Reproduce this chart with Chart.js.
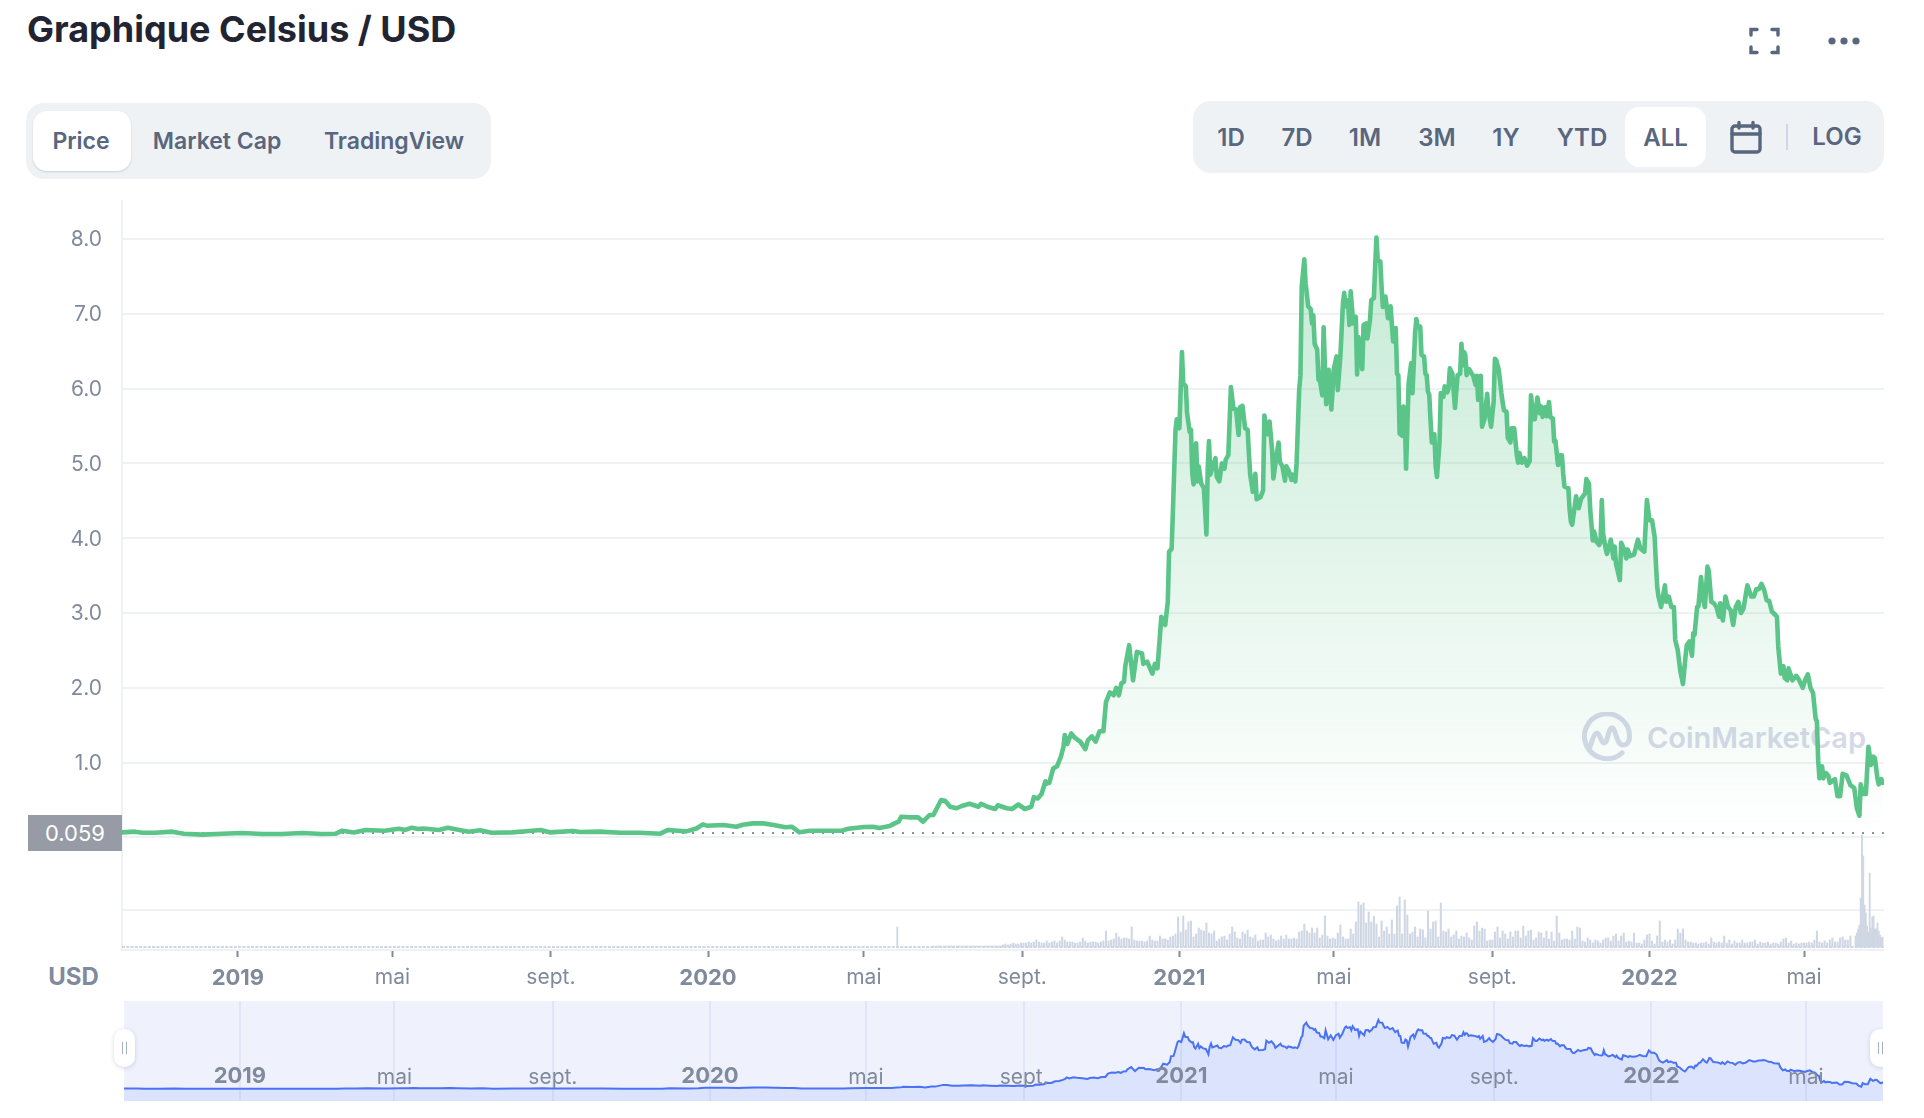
<!DOCTYPE html>
<html lang="fr">
<head>
<meta charset="utf-8">
<title>Graphique Celsius / USD</title>
<script src="https://cdn.jsdelivr.net/npm/chart.js@4/dist/chart.umd.min.js"></script>
<style>
html,body{margin:0;padding:0;background:#fff;overflow:hidden}
#page{position:relative;width:1924px;height:1118px;overflow:hidden;font-family:Inter,sans-serif;color:#58667e}
.abs{position:absolute}
#title{left:27px;top:8px;font-size:36px;font-weight:700;color:#222531;white-space:nowrap;line-height:42px}
.panel{background:#eff2f5;border-radius:18px}
.active{background:#fff;border-radius:14px}
.lbl{font-weight:600;white-space:nowrap;transform:translate(-50%,-50%);line-height:1}
.tab{font-size:23px}
.rng{font-size:24px}
#main{left:0;top:0;z-index:2}
#band{left:124px;top:1001px;width:1759px;height:100px;background:#eff2fd}
#nav{left:124px;top:1001px;z-index:2}
.handle{background:#fff;border-radius:10px;box-shadow:0 1px 4px rgba(88,102,126,.25);z-index:3;width:21px;height:38px;top:1029px}
.handle i{position:absolute;top:13px;width:1.5px;height:12px;background:#a6b0c3}
#wm{left:1647px;top:716px;font-size:29px;font-weight:600;color:#d6d9e8;line-height:44px;white-space:nowrap;z-index:1}
#price0{left:28px;top:815px;width:94px;height:36px;background:#979ba6;color:#fff;font-size:22px;line-height:36px;text-align:center;z-index:3}
#usd{left:73.5px;top:977px;font-size:24px;font-weight:700;color:#808a9d}
</style>
</head>
<body>
<div id="page">
  <div id="title" class="abs">Graphique Celsius / USD</div>

  <svg class="abs" style="left:1745px;top:24px" width="120" height="34" fill="none" stroke="#58667e" stroke-width="3.4" stroke-linecap="round">
    <path d="M6 11V5.5H12M27 5.5H33V11M6 23V28.5H12M27 28.5H33V23"/>
    <g fill="#58667e" stroke="none"><circle cx="87" cy="17" r="3.6"/><circle cx="99" cy="17" r="3.6"/><circle cx="111" cy="17" r="3.6"/></g>
  </svg>

  <div class="abs panel" style="left:26px;top:103px;width:465px;height:76px"></div>
  <div class="abs active" style="left:33px;top:111px;width:98px;height:60px;box-shadow:0 1px 2px rgba(88,102,126,.25)"></div>
  <div class="abs lbl tab" style="left:81px;top:141px">Price</div>
  <div class="abs lbl tab" style="left:217px;top:141px">Market Cap</div>
  <div class="abs lbl tab" style="left:394px;top:141px">TradingView</div>

  <div class="abs panel" style="left:1193px;top:101px;width:691px;height:72px"></div>
  <div class="abs active" style="left:1625px;top:107px;width:81px;height:60px"></div>
  <div class="abs lbl rng" style="left:1231px;top:138px">1D</div>
  <div class="abs lbl rng" style="left:1297px;top:138px">7D</div>
  <div class="abs lbl rng" style="left:1365px;top:138px">1M</div>
  <div class="abs lbl rng" style="left:1437px;top:138px">3M</div>
  <div class="abs lbl rng" style="left:1506px;top:138px">1Y</div>
  <div class="abs lbl rng" style="left:1582px;top:138px">YTD</div>
  <div class="abs lbl rng" style="left:1665.5px;top:138px">ALL</div>
  <div class="abs lbl rng" style="left:1837px;top:137px">LOG</div>
  <svg class="abs" style="left:1729px;top:120px" width="34" height="34" fill="none" stroke="#58667e" stroke-width="3.4" stroke-linecap="round">
    <rect x="3" y="6" width="28" height="26" rx="3"/><path d="M3 14H31M10 2.5V8M24 2.5V8"/>
  </svg>
  <div class="abs" style="left:1786px;top:124px;width:2px;height:26px;background:#cfd6e4"></div>

  <svg class="abs" style="left:1582px;top:712px;z-index:1" width="52" height="50" fill="none" stroke="#d6d9e8" stroke-width="5" stroke-linecap="round">
    <path d="M40 41A22.5 22.5 0 1 1 47.5 25C47.5 30 45 33 41 33C34 33 34 16 30 16C26 16 26 31 22 31C19 31 18 21 15 21C12 21 9 32 7 38"/>
  </svg>
  <div id="wm" class="abs">CoinMarketCap</div>

  <canvas id="main" class="abs" width="1924" height="1118"></canvas>

  <div id="price0" class="abs">0.059</div>
  <div id="usd" class="abs lbl">USD</div>

  <div id="band" class="abs"></div>
  <canvas id="nav" class="abs" width="1759" height="100"></canvas>
  <div class="abs" style="left:0;top:0;width:1883px;height:1118px;overflow:hidden;z-index:3;pointer-events:none">
    <div class="abs handle" style="left:114px"><i style="left:7.5px"></i><i style="left:11.5px"></i></div>
    <div class="abs handle" style="left:1870px"><i style="left:7.5px"></i><i style="left:11.5px"></i></div>
  </div>
</div>

<script>
// x = days since 2019-01-01
const tickDays = [0,120,243,365,486,609,731,851,974,1096,1216];
const tickLabels = ['2019','mai','sept.','2020','mai','sept.','2021','mai','sept.','2022','mai'];
const yearLabels = ['2019','2020','2021','2022'];
const priceTicks = [1,2,3,4,5,6,7,8];
const lastPriceRef = 0.059;

// [day, price in USD]
const priceFlat = [[-90,.067],[-80,.077],[-74,.063],[-64,.063],[-51,.077],[-42,.05],[-28,.037],[-12,.05],[3,.06],[19,.045],[34,.045],[50,.06],[65,.045],[76,.05],[81,.09],[90,.067],[99,.10],[114,.09],[125,.117],[130,.10],[135,.13],[140,.112],[144,.12],[156,.10],[163,.13],[169,.108],[179,.077],[188,.095],[197,.063],[213,.067],[226,.086],[235,.10],[242,.068],[260,.086],[266,.072],[281,.077],[297,.063],[312,.063],[328,.05],[334,.10],[348,.081],[356,.12],[361,.175],[364,.157],[377,.166],[387,.143],[392,.17],[400,.188],[408,.188],[416,.166],[425,.135],[430,.143],[436,.068],[444,.09],[460,.09],[469,.09],[474,.117],[486,.14],[493,.143],[498,.126],[506,.152],[510,.188],[513,.21],[515,.277],[522,.268],[528,.27]];
const priceRise = [[532,.21],[537,.30],[540,.30],[546,.50],[549,.49],[553,.41],[558,.39],[562,.42],[568,.45],[575,.41],[577,.45],[582,.41],[588,.38],[590,.43],[597,.39],[601,.38],[606,.44],[611,.38],[616,.41],[618,.54],[621,.52],[624,.58],[627,.75],[628,.72],[630,.73],[633,.92],[636,.95],[639,1.08],[641,1.21],[642,1.37],[644,1.25],[647,1.39],[650,1.33],[654,1.28],[658,1.18],[660,1.30],[663,1.35],[666,1.28],[669,1.42],[672,1.42],[674,1.81],[677,1.94],[680,1.90],[682,2.0],[684,1.90],[686,2.06],[688,2.08],[689,2.29],[692,2.57],[695,2.10],[698,2.48],[702,2.46],[703,2.32],[706,2.35],[710,2.19],[712,2.32],[714,2.26],[717,2.95],[720,2.84],[722,3.15],[723,3.82],[725,3.86],[726,4.38]];
const priceEarly2021 = [[728,5.45],[729,5.59],[731,5.47],[732,5.98],[733,6.49],[734,6.07],[736,6.03],[737,5.67],[739,5.42],[740,5.45],[741,4.87],[742,4.72],[744,5.27],[745,4.76],[746,4.96],[748,4.73],[750,4.67],[751,4.38],[752,4.05],[753,4.93],[754,5.30],[755,4.85],[759,5.07],[760,4.82],[762,4.76],[764,5.0],[766,4.93],[767,5.05],[769,5.11],[771,6.02],[773,5.73],[775,5.72],[777,5.38],[778,5.75],[780,5.77],[782,5.47],[784,5.45],[785,5.12],[786,4.85],[788,4.62],[790,4.86],[791,4.52],[794,4.55],[796,4.64],[797,5.64],[799,5.39],[801,5.56],[803,5.18],[804,4.80],[806,5.05],[808,5.28],[809,5.02],[811,4.96],[813,4.77],[814,4.96],[816,4.90],[818,4.78],[819,4.85],[821,4.76],[822,5.0]];
const pricePeak2021 = [[824,5.98],[825,6.18],[826,7.36],[828,7.73],[829,7.41],[831,7.10],[833,7.06],[834,6.87],[835,6.98],[836,6.60],[838,6.52],[839,6.12],[840,6.12],[842,5.91],[843,6.82],[845,5.79],[847,6.25],[849,5.72],[851,6.27],[853,6.43],[854,5.98],[856,6.43],[858,7.14],[859,7.28],[860,7.10],[862,7.18],[863,6.85],[864,7.30],[866,6.87],[868,6.96],[869,6.19],[870,6.69],[873,6.26],[874,6.85],[876,6.87],[877,6.67],[879,6.92],[880,7.18],[882,7.21],[883,7.63],[884,8.02],[885,7.72],[887,7.70],[888,7.36],[889,7.09],[891,7.23],[893,6.94],[895,7.10],[896,6.85],[897,6.63],[899,6.81],[900,6.20],[901,6.18],[902,5.40],[904,5.37],[905,5.76],[906,5.67],[907,4.93],[909,6.07],[911,6.34],[912,5.94],[914,6.74],[915,6.93],[916,6.83],[918,6.83],[919,6.45],[921,6.43],[922,6.20],[923,6.18],[924,5.96],[925,5.92],[926,5.58],[927,5.28],[929,5.39],[930,4.96],[931,4.82],[933,5.29]];
const priceLate2021 = [[934,5.94],[936,5.89],[937,6.03],[939,5.95],[940,6.0],[941,6.27],[943,6.20],[945,5.74],[947,6.18],[949,6.20],[950,6.60],[951,6.31],[952,6.49],[953,6.45],[954,6.18],[956,6.26],[958,6.20],[959,6.18],[961,6.05],[962,6.17],[963,5.85],[965,6.17],[966,5.49],[968,5.60],[970,5.93],[971,5.71],[973,5.49],[975,5.82],[976,6.40],[977,6.38],[979,6.25],[981,5.94],[982,5.82],[983,5.71],[985,5.69],[986,5.34],[988,5.28],[989,5.47],[991,5.47],[993,5.11],[994,5.01],[995,5.14],[997,5.01],[999,5.07],[1001,4.97],[1003,5.03],[1004,5.91],[1006,5.59],[1007,5.59],[1009,5.88],[1011,5.67],[1012,5.76],[1013,5.62],[1015,5.75],[1016,5.63],[1018,5.82],[1019,5.62],[1021,5.60],[1022,5.29],[1023,5.30],[1025,4.98],[1026,5.11],[1028,5.11],[1029,4.87],[1030,4.69],[1033,4.67],[1034,4.38],[1035,4.22],[1036,4.18],[1039,4.56],[1041,4.40],[1043,4.53],[1046,4.60],[1047,4.79],[1049,4.73],[1050,4.38],[1052,3.97],[1053,4.09],[1055,3.95],[1057,3.91],[1058,3.95],[1059,4.51],[1060,4.06],[1062,3.86],[1063,3.79],[1066,3.98],[1068,3.73],[1069,3.89],[1070,3.66],[1073,3.44],[1074,3.94],[1076,3.86],[1078,3.73],[1079,3.85],[1081,3.76],[1084,3.78],[1087,3.98],[1089,3.86],[1092,3.82],[1094,4.51]];
const price2022 = [[1096,4.24],[1098,4.24],[1100,4.02],[1101,3.66],[1102,3.35],[1103,3.22],[1105,3.08],[1108,3.37],[1109,3.15],[1111,3.22],[1113,3.08],[1115,3.08],[1116,2.64],[1118,2.50],[1120,2.22],[1122,2.05],[1124,2.42],[1125,2.57],[1127,2.62],[1129,2.43],[1130,2.73],[1131,2.71],[1133,3.08],[1134,3.09],[1136,3.48],[1138,3.15],[1139,3.08],[1141,3.62],[1142,3.57],[1144,3.15],[1146,3.13],[1148,3.08],[1150,2.95],[1151,3.13],[1153,2.90],[1155,3.22],[1157,3.08],[1159,3.04],[1161,2.84],[1163,3.08],[1165,3.15],[1167,3.0],[1169,3.06],[1172,3.37],[1175,3.22],[1177,3.22],[1179,3.32],[1181,3.32],[1183,3.39],[1185,3.31],[1187,3.17],[1189,3.16],[1191,3.02],[1194,2.97],[1195,2.95],[1196,2.55],[1198,2.19],[1200,2.29],[1201,2.13],[1203,2.10],[1204,2.26],[1207,2.10],[1210,2.16],[1212,2.11],[1215,2.0],[1217,2.11],[1219,2.18],[1221,2.0],[1223,1.93],[1225,1.59],[1226,1.55],[1227,1.03],[1228,.79],[1230,.95],[1231,.79],[1233,.86],[1235,.82],[1236,.73],[1240,.78],[1242,.55],[1244,.55],[1246,.85],[1249,.83],[1252,.70],[1255,.66],[1257,.39],[1259,.29],[1260,.71],[1262,.58],[1264,.58],[1266,1.21],[1268,.97],[1270,1.08],[1271,1.06],[1273,.79],[1274,.71],[1276,.78],[1277,.73]];

// volume bars, in relative units; one bar every second day from volumeStartDay
const volumeStartDay = 540;
const volumeLate2020 = [1,1,1,1,1,1,1,1,1,1,1,1,1,1,1,1,1,1,1,1,1,1,1,1,1,1,1,2,3,2,3,4,3,3,4,4,4,5,4,5,7,5,4];
const volume2021a = [4,6,4,5,6,4,6,10,7,5,5,5,4,4,5,9,6,4,5,5,5,4,5,6,16,6,7,8,14,10,8,9,9,8,20,7,6,6,6,5,6,11,7,6,6,11,8,8,7,10,11,13,30,15,31,17,25,26,10,13,19,17,16,24,14,13,16,6,8,10,11,7,13,20,15,9,8,15,13,17,10,9,12,6,7,7,14,10,12,8,6,7,11,8,12,8,8,9,8,15,16,23,16,14,19,14,19,9,12,31,11,8,9,8,14,22,10,8,8,18,13,25,45,42,44,24,35,25,31,23,10,26,16,20,13,27,13,41,50,13,47,32,13,15,20,10,18,17,9,36,18,25,26,10,44,16,15,18,10,12,16,8,11,10,14,9];
const volume2021b = [7,21,25,16,19,18,6,7,7,15,20,9,16,13,8,15,10,16,16,9,21,11,16,17,7,9,15,14,9,16,8,15,6,31,14,7,8,8,7,16,8,20,19,6,5,9,7,4,7,6,4,7,9,9,6,11,13,6,11,14,5,6,5,14,4,4,3,7,12,13,6,3,11,26,5,7,5,7,3,7,18,14,18,7,5,5,4,4,3,4,4,5,3,9,5,4,5,4,11,4,7,3,6,4,4,7,4,4,5,5,7,3,5,4,4,5,3,4,4,3,5,8,9,4,6,3,4,3,4,4,4,5,4,7,16,5,4,6,4,7,9,5,5,9,10,7,7,11];
// separate bars: an isolated spike in 2020 and the last daily bars of June 2022
const volumeSpike2020 = [[512,20]];
const volumeCrash2022 = [[1256,11],[1257,14],[1258,18],[1259,22],[1260,49],[1261,112],[1262,91],[1263,42],[1264,34],[1265,21],[1266,15],[1267,74],[1268,19],[1269,30],[1270,31],[1271,18],[1272,18],[1273,24],[1274,16],[1275,12],[1276,9],[1277,10]];

const pricePoints = [...priceFlat,...priceRise,...priceEarly2021,...pricePeak2021,...priceLate2021,...price2022].map(p=>({x:p[0],y:p[1]}));
const volumeSeries = [...volumeLate2020,...volume2021a,...volume2021b];
const volumePoints = volumeSeries.map((v,i)=>({x:volumeStartDay+i*2,y:v})).filter(p=>p.x<1256);
const volumeDaily = [...volumeSpike2020,...volumeCrash2022].map(p=>({x:p[0],y:p[1]}));

const GREEN='#5bc589', GREY='#808a9d', VOL='#cfd6e4', GRID='#eff2f5';

function priceGradient(c){
  const {ctx}=c.chart;
  const g=ctx.createLinearGradient(0,239,0,833);
  g.addColorStop(0,'rgba(91,197,137,.36)');
  g.addColorStop(1,'rgba(91,197,137,0)');
  return g;
}
function setTicks(values){return s=>{s.ticks=values.map(v=>({value:v}));};}
const tickFont = c => yearLabels.includes(tickLabels[tickDays.indexOf(c.tick&&c.tick.value)])
    ? {family:'Inter',size:22,weight:'700'} : {family:'Inter',size:21,weight:'400'};

new Chart(document.getElementById('main'),{
  data:{datasets:[
    {type:'line',label:'Price',data:pricePoints,yAxisID:'y',borderColor:GREEN,borderWidth:4.6,borderJoinStyle:'round',borderCapStyle:'round',pointRadius:0,tension:0,fill:{value:lastPriceRef},backgroundColor:priceGradient,order:1},
    {type:'line',label:'Last',data:[{x:-90,y:lastPriceRef},{x:1278,y:lastPriceRef}],yAxisID:'y',borderColor:'#8a909e',borderWidth:2,borderDash:[2,8],pointRadius:0,fill:false,order:2},
    {type:'line',label:'VolBase',data:[{x:-90,y:0},{x:1278,y:0}],yAxisID:'v',borderColor:VOL,borderWidth:2,borderDash:[3,1.3],pointRadius:0,fill:false,order:5},
    {type:'bar',label:'Volume',data:volumePoints,yAxisID:'v',backgroundColor:VOL,barThickness:1.4,grouped:false,order:3},
    {type:'bar',label:'VolumeDaily',data:volumeDaily,yAxisID:'v',backgroundColor:VOL,barThickness:1.2,grouped:false,order:4}
  ]},
  options:{
    responsive:false,animation:false,devicePixelRatio:1,
    layout:{padding:{left:0,top:201,right:40,bottom:108}},
    plugins:{legend:{display:false},tooltip:{enabled:false}},
    scales:{
      x:{type:'linear',min:-90,max:1278.1,offset:false,
        afterBuildTicks:setTicks(tickDays),afterFit:s=>{s.height=60;},
        border:{display:false},
        grid:{offset:false,drawOnChartArea:false,drawTicks:true,tickLength:7,tickWidth:2,tickColor:GREY},
        ticks:{autoSkip:false,maxRotation:0,padding:8,color:GREY,font:tickFont,
          callback:(v)=>tickLabels[tickDays.indexOf(v)]||''}},
      y:{position:'left',min:-1.505,max:8.508,
        afterBuildTicks:setTicks([-1.505,-0.97,0,...priceTicks]),afterFit:s=>{s.width=0;},
        border:{display:true,color:GRID,width:2},
        grid:{color:GRID,lineWidth:2,drawTicks:false},
        ticks:{display:false}},
      yLabels:{position:'left',min:-1.49,max:8.523,
        afterBuildTicks:setTicks(priceTicks),afterFit:s=>{s.width=122;},
        border:{display:false},
        grid:{display:false},
        ticks:{padding:12,color:GREY,font:{family:'Inter',size:21},
          callback:v=>v.toFixed(1)}},
      v:{display:false,min:-3,max:746}
    }
  }
});

new Chart(document.getElementById('nav'),{
  type:'line',
  data:{datasets:[{data:pricePoints,borderColor:'#4a72f5',borderWidth:2,pointRadius:0,tension:0,fill:'start',backgroundColor:'rgba(56,97,251,.10)'}]},
  options:{
    responsive:false,animation:false,devicePixelRatio:1,
    layout:{padding:0},
    plugins:{legend:{display:false},tooltip:{enabled:false}},
    scales:{
      x:{type:'linear',min:-90,max:1275.8,
        afterBuildTicks:setTicks(tickDays),afterFit:s=>{s.height=0;},
        border:{display:false},
        grid:{color:'#e1e6f6',lineWidth:2,drawTicks:false},
        ticks:{z:1,mirror:true,autoSkip:false,maxRotation:0,padding:11,color:GREY,font:tickFont,
          callback:(v)=>tickLabels[tickDays.indexOf(v)]||''}},
      y:{display:false,min:-1.37,max:10.23}
    }
  }
});
</script>
</body>
</html>
